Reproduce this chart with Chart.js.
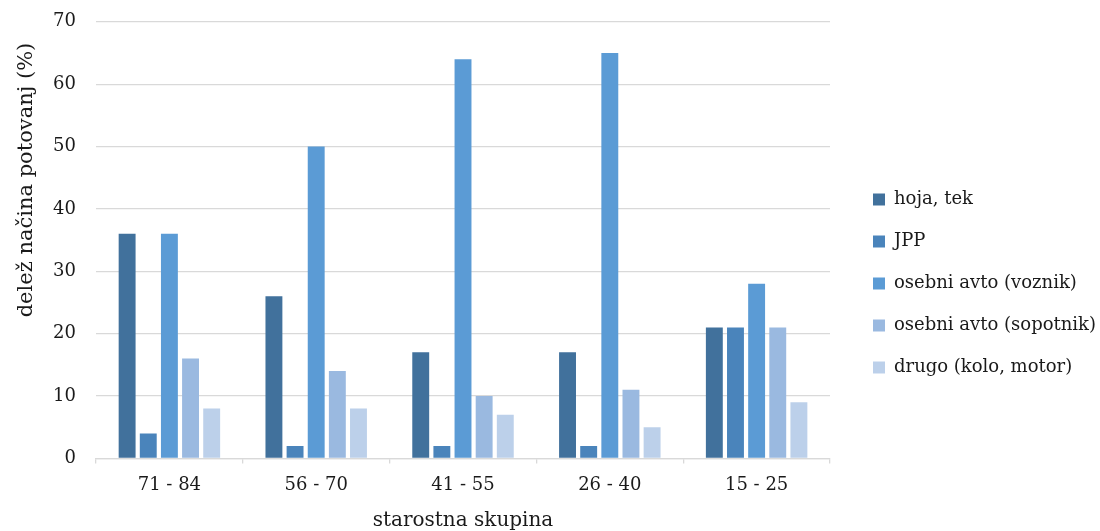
<!DOCTYPE html>
<html>
<head>
<meta charset="utf-8">
<script src="https://cdn.jsdelivr.net/npm/chart.js@4"></script>
<style>
  html, body { margin: 0; padding: 0; background: #fff; }
  #wrap { width: 1100px; height: 531px; }
</style>
</head>
<body>
<div id="wrap"><canvas id="myChart" width="1100" height="531"></canvas></div>
<script>
// categories (age groups) and the five travel modes
const ageGroups = ['71 - 84', '56 - 70', '41 - 55', '26 - 40', '15 - 25'];
const walking = [36, 26, 17, 17, 21];
const publicTransport = [4, 2, 2, 2, 21];
const carDriver = [36, 50, 64, 65, 28];
const carPassenger = [16, 14, 10, 11, 21];
const otherModes = [8, 8, 7, 5, 9];
const yTicks = [0, 10, 20, 30, 40, 50, 60, 70];

const FONT = "'DejaVu Serif', 'Liberation Serif', serif";
const gridColor = '#d9d9d9';

// moves the legend a bit right/down so there is a gap between plot and legend
const legendShift = {
  id: 'legendShift',
  afterLayout(chart) {
    const l = chart.legend;
    if (!l) return;
    l.left += 19; l.right += 19;
    l.top += 20; l.bottom += 20;
  }
};

const ctx = document.getElementById('myChart').getContext('2d');
window.myChart = new Chart(ctx, {
  type: 'bar',
  data: {
    labels: ageGroups,
    datasets: [
      { label: 'hoja, tek', data: walking, backgroundColor: '#41719c' },
      { label: 'JPP', data: publicTransport, backgroundColor: '#4a84bb' },
      { label: 'osebni avto (voznik)', data: carDriver, backgroundColor: '#5b9bd5' },
      { label: 'osebni avto (sopotnik)', data: carPassenger, backgroundColor: '#9ab9e0' },
      { label: 'drugo (kolo, motor)', data: otherModes, backgroundColor: '#bcd0ea' }
    ]
  },
  plugins: [legendShift],
  options: {
    responsive: false,
    animation: false,
    devicePixelRatio: 1,
    categoryPercentage: 0.72,
    barPercentage: 0.8,
    layout: { padding: { left: 10, right: 13, top: -4, bottom: 0 } },
    plugins: {
      tooltip: { enabled: false },
      legend: {
        position: 'right',
        labels: {
          boxWidth: 12,
          boxHeight: 12,
          padding: 24,
          color: '#1a1a1a',
          font: { family: FONT, size: 18 }
        }
      }
    },
    scales: {
      x: {
        grid: { display: true, drawOnChartArea: false, color: gridColor, lineWidth: 1.3, tickLength: 5 },
        border: { color: gridColor, width: 1.3 },
        ticks: { color: '#1a1a1a', padding: 11, font: { family: FONT, size: 18 } },
        title: {
          display: true,
          text: 'starostna skupina',
          color: '#1a1a1a',
          padding: { top: 4, bottom: 0 },
          font: { family: FONT, size: 20, lineHeight: 1 }
        }
      },
      y: {
        min: 0,
        max: 70,
        afterBuildTicks: function(scale) {
          scale.ticks = yTicks.map(v => ({ value: v }));
        },
        afterFit: function(scale) { scale.width = 86; },
        grid: { color: gridColor, lineWidth: 1.3, drawTicks: true, tickLength: 9, tickColor: 'rgba(0,0,0,0)' },
        border: { display: false },
        ticks: { color: '#1a1a1a', padding: 11, font: { family: FONT, size: 18 } },
        title: {
          display: true,
          text: '\u00a0'.repeat(18) + 'delež načina potovanj (%)',
          color: '#1a1a1a',
          padding: 4,
          font: { family: FONT, size: 21 }
        }
      }
    }
  }
});
</script>
</body>
</html>
